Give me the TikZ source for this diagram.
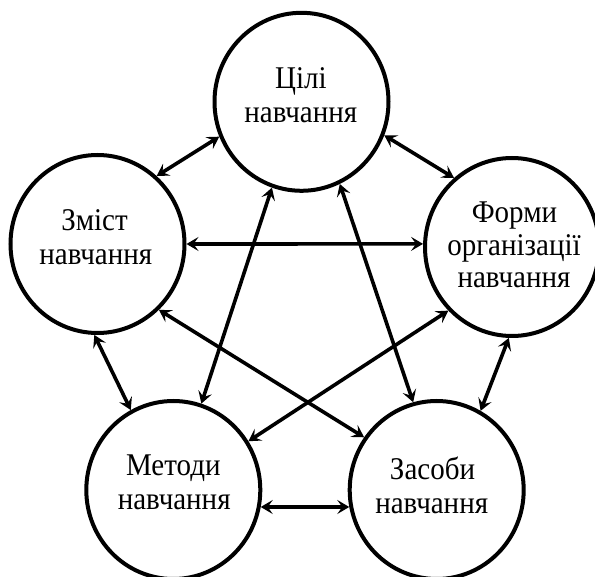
\documentclass[tikz,border=0pt]{standalone}
\usepackage{fontspec}
\setmainfont{Liberation Serif}
\usetikzlibrary{shapes.geometric,arrows.meta}
\newcommand\tallt[1]{\scalebox{1}[1.09]{#1}}
\begin{document}
\begin{tikzpicture}[x=1pt,y=-1pt,
  ell/.style={ellipse, draw, line width=4pt, minimum width=174pt, minimum height=178pt, inner sep=0pt},
  lbl/.style={anchor=base, font=\fontsize{29}{34}\selectfont, inner sep=0pt},
  link/.style={line width=3.6pt, {Stealth[length=12pt,width=14pt,inset=5pt]}-{Stealth[length=12pt,width=14pt,inset=5pt]}}]
\useasboundingbox (0,0) rectangle (595,577);
\clip (0,0) rectangle (595,577);
% circles
\node[ell] (T) at (301.5,101.8) {};
\node[ell] (L) at (97.5,244) {};
\node[ell] (R) at (512,247) {};
\node[ell] (M) at (173.3,490) {};
\node[ell] (Z) at (436.7,490) {};
% texts
\node[lbl] (T1) at (301,89) {\tallt{Цілі}};
\node[lbl] (T2) at (300.8,123) {\tallt{навчання}};
\node[lbl] (L1) at (94.5,230.7) {\tallt{Зміст}};
\node[lbl] (L2) at (95.8,265) {\tallt{навчання}};
\node[lbl] (R1) at (514.5,223) {\tallt{Форми}};
\node[lbl] (R2) at (514,255.5) {\tallt{організації}};
\node[lbl] (R3) at (514,288) {\tallt{навчання}};
\node[lbl] (M1) at (173.3,476) {\tallt{Методи}};
\node[lbl] (M2) at (174.2,509.7) {\tallt{навчання}};
\node[lbl] (Z1) at (432.5,480) {\tallt{Засоби}};
\node[lbl] (Z2) at (431.7,513.7) {\tallt{навчання}};
% links
\draw[link] (L.49) -- (T.203);
\draw[link] (T.338) -- (R.130);
\draw[link] (L.0) -- (R.178);
\draw[link] (L.268) -- (M.118);
\draw[link] (R.268) -- (Z.61);
\draw[link] (T.251) -- (M.72);
\draw[link] (T.295) -- (Z.105);
\draw[link] (L.313) -- (Z.144);
\draw[link] (R.225) -- (M.33);
\draw[link] (M.349) -- (Z.191);
\end{tikzpicture}
\end{document}
